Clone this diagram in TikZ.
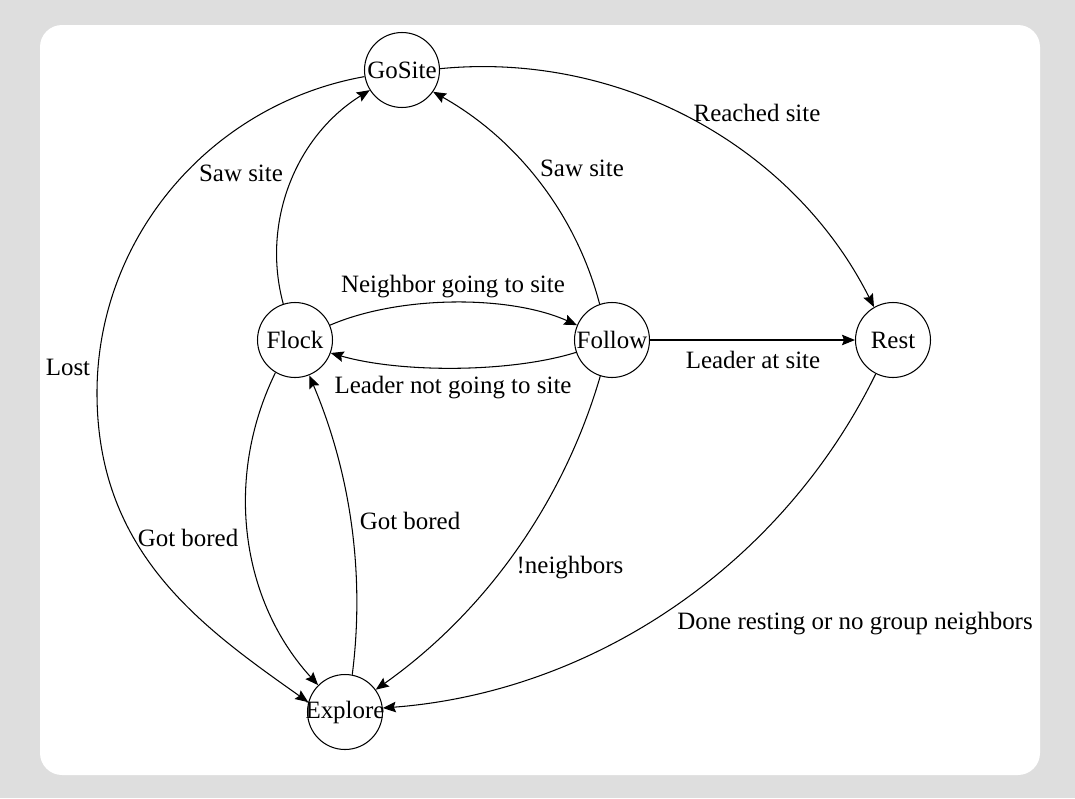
\documentclass[tikz,border=0pt]{standalone}
\usepackage{fontspec}
\setmainfont{Liberation Serif}
\usetikzlibrary{arrows.meta}

\definecolor{bggray}{HTML}{DEDEDE}

\tikzset{
  state/.style={circle, draw, line width=0.6pt, minimum size=1.5cm, inner sep=0pt},
  edge/.style={line width=0.6pt, -{Stealth[length=2.6mm, width=2.1mm, inset=0.4mm]}},
  lbl/.style={inner sep=1pt}
}

\begin{document}
\begin{tikzpicture}[x=0.02cm, y=-0.02cm, font=\fontsize{14.2}{17}\selectfont]
    % Canvas
    \useasboundingbox (0,0) rectangle (1075,798);
    \fill[bggray] (0,0) rectangle (1075,798);
    \fill[white, rounded corners=0.44cm] (40,25) rectangle (1040,775);

    % States
    \node[state, label=center:GoSite] (gosite) at (402,70) {};
    \node[state, label=center:Flock] (flock) at (295,340) {};
    \node[state, label=center:Follow] (follow) at (612,340) {};
    \node[state, label=center:Rest] (rest) at (893,340) {};
    \node[state, label=center:Explore] (explore) at (345,712) {};
    \coordinate (lostbend) at (97,393);

    % Transitions
    \draw[edge] (gosite.190) .. controls (211,104) and (97,237) .. (lostbend)
                .. controls (97,553) and (202,627) .. (explore.165);
    \draw[edge] (flock.108) .. controls (261,222) and (296,136) .. (gosite.212);
    \draw[edge] (follow.109) .. controls (576,214) and (517,139) .. (gosite.325);
    \draw[edge] (gosite.2) .. controls (620,51) and (793,146) .. (rest.120);
    \draw[edge] (flock.23) .. controls (400,295) and (510,295) .. (follow.157);
    \draw[edge] (follow.199) .. controls (510,373) and (400,373) .. (flock.340);
    \draw[edge] (follow) -- (rest);
    \draw[edge] (flock.239) .. controls (223,480) and (242,602) .. (explore.135);
    \draw[edge] (explore.79) .. controls (365,575) and (351,474) .. (flock.292);
    \draw[edge] (follow.252) .. controls (563,504) and (484,613) .. (explore.36);
    \draw[edge] (rest.243) .. controls (782,565) and (594,692) .. (explore.6);

    % Labels
    \node[lbl] (lost) at (68,367) {Lost};
    \node[lbl] (sawleft) at (241,173) {Saw site};
    \node[lbl] (sawright) at (582,168) {Saw site};
    \node[lbl] (reached) at (757,113) {Reached site};
    \node[lbl] (nbgoing) at (453,287) {Neighbor going to site};
    \node[lbl] (ldnotgoing) at (453,388) {Leader not going to site};
    \node[lbl] (ldatsite) at (753,360) {Leader at site};
    \node[lbl] (boredleft) at (188,538) {Got bored};
    \node[lbl] (boredright) at (410,521) {Got bored};
    \node[lbl] (noneigh) at (570,568) {!neighbors};
    \node[lbl] (doneresting) at (855,624) {Done resting or no group neighbors};

\end{tikzpicture}
\end{document}
